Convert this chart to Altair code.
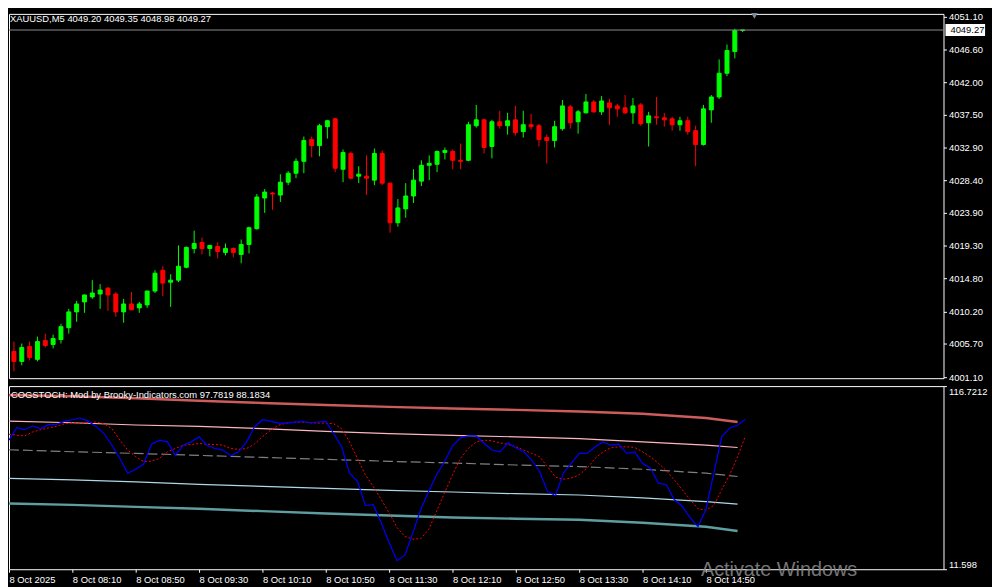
import json
import altair as alt
import pandas as pd

# ---------------- data ----------------
opens = [4004.67, 4003.29, 4005.36, 4003.57, 4006.18, 4005.64, 4006.32, 4007.97, 4010.16, 4011.54,
         4012.23, 4012.64, 4013.46, 4012.64, 4010.16, 4011.26, 4010.71, 4011.13, 4013.05, 4015.94,
         4014.28, 4014.56, 4016.35, 4018.96, 4019.79, 4018.96, 4019.24, 4018.41, 4018.96, 4018.13,
         4019.51, 4021.70, 4025.96, 4026.65, 4026.37, 4028.16, 4029.40, 4031.05, 4034.07, 4033.24,
         4035.86, 4036.95, 4029.95, 4032.14, 4028.99, 4028.99, 4028.44, 4032.14, 4028.02, 4022.53,
         4024.45, 4026.24, 4028.30, 4030.50, 4030.64, 4032.28, 4032.42, 4031.19, 4031.19, 4035.99,
         4036.81, 4033.11, 4036.54, 4035.99, 4036.81, 4035.17, 4036.13, 4035.99, 4034.35, 4033.94,
         4035.58, 4038.61, 4036.54, 4037.78, 4039.29, 4037.92, 4039.15, 4038.74, 4038.47, 4037.78,
         4038.88, 4036.40, 4037.23, 4037.09, 4036.95, 4036.13, 4036.68, 4035.31, 4033.38, 4038.19,
         4039.98, 4043.27, 4046.29, 4049.20]
highs = [4006.04, 4005.77, 4006.04, 4006.73, 4007.14, 4007.01, 4008.52, 4010.58, 4011.68, 4012.55,
         4014.56, 4014.01, 4013.60, 4012.91, 4011.96, 4012.91, 4011.54, 4013.10, 4015.94, 4016.49,
         4015.38, 4019.38, 4019.24, 4021.43, 4020.47, 4019.45, 4019.79, 4019.65, 4019.10, 4020.20,
         4021.98, 4026.51, 4027.20, 4026.79, 4029.26, 4029.68, 4031.46, 4034.49, 4034.49, 4036.26,
         4036.81, 4037.09, 4032.69, 4032.42, 4030.37, 4031.87, 4032.83, 4032.56, 4028.10, 4025.82,
         4028.02, 4029.95, 4031.19, 4031.87, 4032.56, 4032.97, 4032.69, 4033.52, 4036.54, 4038.88,
         4036.95, 4036.81, 4038.06, 4037.78, 4038.74, 4038.06, 4037.64, 4036.26, 4034.76, 4036.68,
         4039.56, 4038.88, 4038.19, 4040.39, 4039.56, 4040.11, 4039.70, 4039.02, 4040.25, 4039.84,
         4039.15, 4037.92, 4039.98, 4037.78, 4037.23, 4037.23, 4037.23, 4035.99, 4038.88, 4040.25,
         4045.19, 4047.26, 4049.45, 4049.35]
lows = [4001.92, 4002.75, 4003.43, 4003.29, 4005.22, 4005.09, 4005.77, 4007.14, 4008.79, 4010.03,
        4011.96, 4010.58, 4010.30, 4009.48, 4008.66, 4010.40, 4010.03, 4010.71, 4012.78, 4012.37,
        4010.85, 4014.28, 4016.21, 4018.27, 4018.13, 4017.86, 4017.58, 4018.00, 4017.72, 4016.90,
        4018.27, 4021.57, 4023.90, 4024.32, 4025.41, 4027.75, 4028.71, 4029.40, 4031.60, 4031.74,
        4034.21, 4029.54, 4028.16, 4028.57, 4028.02, 4026.37, 4027.75, 4027.75, 4021.15, 4021.98,
        4023.22, 4025.27, 4027.62, 4028.44, 4029.54, 4031.32, 4029.95, 4029.95, 4031.05, 4035.72,
        4032.14, 4031.46, 4035.58, 4034.76, 4034.62, 4034.35, 4035.44, 4033.11, 4030.77, 4032.97,
        4035.31, 4035.58, 4034.89, 4037.70, 4037.78, 4037.50, 4036.13, 4037.23, 4037.64, 4036.26,
        4035.99, 4033.11, 4036.13, 4035.86, 4035.31, 4035.31, 4034.76, 4030.37, 4033.24, 4036.40,
        4039.70, 4042.86, 4045.33, 4048.98]
closes = [4003.29, 4005.22, 4003.84, 4006.04, 4005.50, 4006.46, 4008.11, 4010.16, 4011.26, 4012.51,
          4012.78, 4013.19, 4012.51, 4010.16, 4011.26, 4010.44, 4011.26, 4013.05, 4015.52, 4014.15,
          4014.56, 4016.49, 4019.10, 4019.65, 4018.96, 4019.38, 4018.55, 4018.96, 4018.41, 4019.51,
          4021.84, 4026.10, 4026.79, 4026.51, 4028.16, 4029.40, 4031.05, 4033.94, 4033.24, 4035.99,
          4036.68, 4030.09, 4032.28, 4028.71, 4029.26, 4028.71, 4032.14, 4028.02, 4022.53, 4024.59,
          4026.24, 4028.44, 4030.50, 4030.77, 4032.42, 4032.56, 4031.19, 4031.05, 4036.13, 4036.81,
          4032.97, 4036.54, 4035.99, 4036.68, 4035.03, 4036.13, 4035.86, 4034.07, 4033.94, 4035.86,
          4038.74, 4036.40, 4037.92, 4039.29, 4037.92, 4039.43, 4038.47, 4038.33, 4037.78, 4038.74,
          4036.26, 4037.36, 4037.09, 4036.81, 4036.13, 4036.68, 4035.17, 4033.38, 4038.33, 4039.98,
          4043.27, 4046.43, 4049.20, 4049.27]

stoch_main = [85.7, 92.9, 91.7, 93.8, 92.3, 94.6, 94.8, 96.5, 97.4, 98.4,
              96.6, 93.6, 89.5, 82.8, 75.2, 66.7, 69.0, 72.0, 83.4, 85.7,
              84.7, 77.1, 82.8, 84.7, 87.6, 82.8, 80.9, 80.0, 76.8, 79.0,
              84.7, 93.2, 97.4, 96.6, 95.5, 95.5, 95.9, 96.5, 95.7, 96.1,
              96.5, 89.5, 81.9, 66.7, 62.0, 48.2, 48.7, 38.3, 27.0, 16.5,
              19.7, 32.6, 45.9, 56.3, 65.8, 73.4, 82.3, 87.0, 88.1, 88.1,
              83.8, 80.0, 79.0, 84.2, 81.3, 79.0, 74.3, 67.7, 56.3, 53.8,
              66.7, 72.4, 78.1, 78.1, 81.9, 84.7, 82.8, 83.4, 78.1, 79.0,
              72.4, 69.6, 61.0, 60.1, 51.6, 47.8, 41.2, 36.0, 45.9, 66.7,
              87.6, 92.7, 94.2, 97.7819]
stoch_signal = [89.1, 88.5, 88.1, 90.4, 91.7, 92.7, 93.6, 95.1, 95.7, 95.5,
                95.7, 96.1, 95.1, 92.3, 85.7, 80.0, 76.2, 73.4, 73.7, 75.2,
                79.0, 80.9, 82.8, 83.2, 83.8, 83.4, 83.2, 82.8, 80.9, 80.4,
                80.9, 83.4, 87.6, 91.3, 94.2, 95.5, 96.1, 96.1, 95.7, 95.5,
                95.5, 95.1, 92.3, 84.7, 75.2, 65.8, 59.1, 51.6, 44.0, 35.5,
                30.4, 28.8, 29.2, 34.5, 44.9, 55.4, 65.8, 75.2, 80.9, 84.7,
                85.7, 85.3, 84.2, 83.2, 81.9, 80.0, 78.1, 76.2, 70.5, 64.5,
                63.3, 63.9, 65.8, 69.6, 75.2, 79.0, 81.3, 81.9, 81.9, 81.5,
                79.0, 76.2, 72.4, 68.2, 62.9, 57.3, 51.6, 46.3, 45.5, 48.2,
                57.3, 65.8, 76.2, 88.1834]

band_bars = [0, 8, 16, 24, 32, 40, 48, 56, 64, 72, 80, 88, 92]
band_top = [111.61, 110.87, 109.73, 108.37, 107.06, 105.92, 104.79, 103.82, 103.08, 102.12, 100.81, 98.37, 96.09]
band_upper = [96.66, 95.70, 94.39, 93.59, 92.29, 90.75, 89.45, 88.48, 87.57, 86.61, 84.73, 82.80, 81.49]
band_mid = [80.18, 79.05, 78.08, 76.95, 75.81, 74.67, 73.54, 72.57, 71.43, 70.53, 68.99, 66.72, 64.84]
band_lower = [63.71, 62.91, 61.77, 60.30, 59.16, 58.02, 56.89, 55.92, 54.96, 54.22, 52.51, 50.41, 48.93]
band_bottom = [49.27, 48.54, 47.40, 46.26, 44.96, 43.59, 42.46, 41.32, 40.58, 40.01, 38.31, 36.04, 33.59]

time_ticks = [0, 8, 16, 24, 32, 40, 48, 56, 64, 72, 80, 88]
time_labels = ["8 Oct 2025", "8 Oct 08:10", "8 Oct 08:50", "8 Oct 09:30", "8 Oct 10:10",
               "8 Oct 10:50", "8 Oct 11:30", "8 Oct 12:10", "8 Oct 12:50", "8 Oct 13:30",
               "8 Oct 14:10", "8 Oct 14:50"]
price_ticks = [4001.10, 4005.70, 4010.20, 4014.80, 4019.30, 4023.90, 4028.40,
               4032.90, 4037.50, 4042.00, 4046.60, 4051.10]
sub_ticks = [11.598, 116.7212]

header = "XAUUSD,M5  4049.20 4049.35 4048.98 4049.27"
sub_caption = "COGSTOCH: Mod by Brooky-Indicators.com 97.7819 88.1834"
bid_label = "4049.27"
watermark = "Activate Windows"

# ---------------- tables ----------------
n = len(opens)
candles = pd.DataFrame({"bar": list(range(n)), "open": opens, "high": highs,
                        "low": lows, "close": closes})
candles["dir"] = ["up" if c >= o else "down" for o, c in zip(opens, closes)]
stoch = pd.DataFrame({"bar": list(range(n)), "main": stoch_main, "signal": stoch_signal})
bands = pd.DataFrame({"bar": band_bars, "top": band_top, "upper": band_upper, "mid": band_mid,
                      "lower": band_lower, "bottom": band_bottom})
one = pd.DataFrame({"bid": [closes[-1]]})

W = 944
H_MAIN = 368
H_SUB = 185
FONT = "Liberation Sans"
FS = 9.5
XDOM = [0, 118]

xs = alt.Scale(domain=XDOM, nice=False, zero=False)
dir_scale = alt.Scale(domain=["up", "down"], range=["#00FF00", "#FF0000"])
ymain = alt.Scale(domain=[4000.96, 4051.51], nice=False, zero=False)

base = alt.Chart(candles)
x_main = alt.X("bar:Q", scale=xs, axis=None)
y_axis_main = alt.Axis(values=price_ticks, format=".2f", orient="right", tickSize=3,
                       labelPadding=2, domain=False, grid=False, title=None, labelOverlap=False,
                       labelColor="white", tickColor="white", labelFont=FONT, labelFontSize=FS)

wicks = base.mark_rule(strokeWidth=1, clip=True).encode(
    x=x_main,
    y=alt.Y("low:Q", scale=ymain, axis=y_axis_main),
    y2="high:Q",
    color=alt.Color("dir:N", scale=dir_scale, legend=None),
)
bodies = base.mark_bar(size=4, strokeWidth=1, clip=True).encode(
    x=x_main,
    y=alt.Y("open:Q", scale=ymain, axis=y_axis_main),
    y2="close:Q",
    color=alt.Color("dir:N", scale=dir_scale, legend=None),
    stroke=alt.Stroke("dir:N", scale=dir_scale, legend=None),
)
ob = alt.Chart(one)
y_bid = alt.Y("bid:Q", scale=ymain, axis=y_axis_main)
bid_line = ob.mark_rule(color="#8c8c8c", strokeWidth=1).encode(y=y_bid)
bid_box = ob.mark_rule(color="white", strokeWidth=12).encode(
    x=alt.value(W + 2), x2=alt.value(W + 42), y=y_bid
)
bid_text = ob.mark_text(align="left", baseline="middle", color="black",
                        font=FONT, fontSize=FS).encode(
    x=alt.value(W + 7), y=y_bid, text=alt.value(bid_label)
)
head_text = ob.mark_text(align="left", baseline="middle", color="white",
                         font=FONT, fontSize=FS).encode(
    x=alt.value(1), y=alt.value(5), text=alt.value(header)
)
shift_mark = ob.mark_point(shape="triangle-down", filled=True,
                           color="#7a8a9a", size=45, opacity=1).encode(
    x=alt.value(753), y=alt.value(2)
)

main = alt.layer(wicks, bodies, bid_line, bid_box, bid_text, head_text, shift_mark).properties(
    width=W, height=H_MAIN
)

# ---------------- lower panel ----------------
ysub = alt.Scale(domain=sub_ticks, nice=False, zero=False)
x_sub_axis = alt.Axis(values=time_ticks,
                      labelExpr=json.dumps(time_labels) + "[round(datum.value / 8)]",
                      labelAlign="left", labelBaseline="top", tickSize=3, labelPadding=2,
                      domain=False, grid=False, title=None, labelColor="white",
                      tickColor="white", labelFont=FONT, labelFontSize=FS, labelFlush=False,
                      labelOverlap=False)
x_sub = alt.X("bar:Q", scale=xs, axis=x_sub_axis)
y_sub_axis = alt.Axis(values=sub_ticks, format=".4~f", orient="right", tickSize=3,
                      labelPadding=2, labelFlush=True, domain=False, grid=False, title=None,
                      labelOverlap=False,
                      labelColor="white", tickColor="white", labelFont=FONT, labelFontSize=FS)

bbase = alt.Chart(bands)


def band(field, color, width, dash=None):
    kw = dict(color=color, strokeWidth=width, clip=True)
    if dash:
        kw["strokeDash"] = dash
    return bbase.mark_line(**kw).encode(
        x=x_sub, y=alt.Y(f"{field}:Q", scale=ysub, axis=y_sub_axis)
    )


l_top = band("top", "#CD5C5C", 2.5)
l_upper = band("upper", "#FFB6C1", 1.2)
l_mid = band("mid", "#808080", 1.2, [10, 4])
l_lower = band("lower", "#ADD8E6", 1.2)
l_bottom = band("bottom", "#5F9EA0", 2.5)

sbase = alt.Chart(stoch)
l_signal = sbase.mark_line(color="#FF0000", strokeWidth=1, strokeDash=[2, 2], clip=True).encode(
    x=x_sub, y=alt.Y("signal:Q", scale=ysub, axis=y_sub_axis)
)
l_main = sbase.mark_line(color="#0000FF", strokeWidth=1.2, clip=True).encode(
    x=x_sub, y=alt.Y("main:Q", scale=ysub, axis=y_sub_axis)
)
cap_text = ob.mark_text(align="left", baseline="middle", color="white",
                        font=FONT, fontSize=FS).encode(
    x=alt.value(2), y=alt.value(9), text=alt.value(sub_caption)
)
wm_text = ob.mark_text(align="left", baseline="alphabetic", color="#8a8a8a", opacity=0.85,
                       font=FONT, fontSize=20).encode(
    x=alt.value(699), y=alt.value(192), text=alt.value(watermark)
)

sub = alt.layer(l_top, l_upper, l_mid, l_lower, l_bottom, l_signal, l_main,
                cap_text, wm_text).properties(width=W, height=H_SUB)

chart = alt.vconcat(main, sub, spacing=3).properties(
    background="black", padding=0
).configure_view(
    stroke="white", strokeWidth=1, fill="black"
).configure_axis(labelOverlap=False)

chart.save("out.html", embed_options={"renderer": "svg", "actions": False})
